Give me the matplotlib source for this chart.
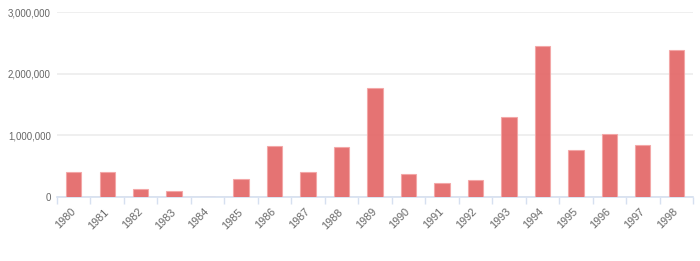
import numpy as np
import matplotlib.pyplot as plt
from matplotlib.ticker import FuncFormatter, FixedLocator

plt.rcParams["font.family"] = ["Liberation Sans", "DejaVu Sans"]

years = [str(y) for y in range(1980, 1999)]
values = [410000, 410000, 125000, 102000, 0, 287000, 831000, 410000, 805000,
          1771000, 373000, 222000, 281000, 1302000, 2442000, 757000, 1026000,
          848000, 2383000]

fig = plt.figure(figsize=(7, 2.61), dpi=100)
ax = fig.add_axes([57 / 700, 1 - 197 / 261, 636 / 700, 185 / 261])

x = np.arange(len(years))
ax.bar(x, values, width=0.46, color="#e36464", alpha=0.9,
       edgecolor="#f4a5a5", linewidth=0.8, zorder=3)

ax.set_xlim(-0.5, len(years) - 0.5)
ax.set_ylim(0, 3000000)
ax.set_yticks([0, 1000000, 2000000, 3000000])
ax.yaxis.set_major_formatter(FuncFormatter(lambda v, p: f"{int(v):,}"))
ax.grid(axis="y", color="#ececec", linewidth=1.2, zorder=0)

for s in ["top", "right", "left"]:
    ax.spines[s].set_visible(False)
ax.spines["bottom"].set_color("#d6e0f0")
ax.spines["bottom"].set_linewidth(1.2)

ax.xaxis.set_major_locator(FixedLocator(np.arange(-0.5, len(years), 1.0)))
ax.xaxis.set_minor_locator(FixedLocator(x))
ax.set_xticklabels([])
ax.set_xticklabels(years, minor=True, rotation=45, ha="right", va="center",
                   rotation_mode="anchor")
ax.tick_params(axis="x", which="major", length=5, color="#d6e0f0", width=1)
ax.tick_params(axis="x", which="minor", length=0, pad=9.5, labelsize=7.8,
               labelcolor="#666666")
ax.tick_params(axis="y", length=0, pad=4.5, labelsize=7, labelcolor="#666666")

fig.savefig("out.png", dpi=100)
